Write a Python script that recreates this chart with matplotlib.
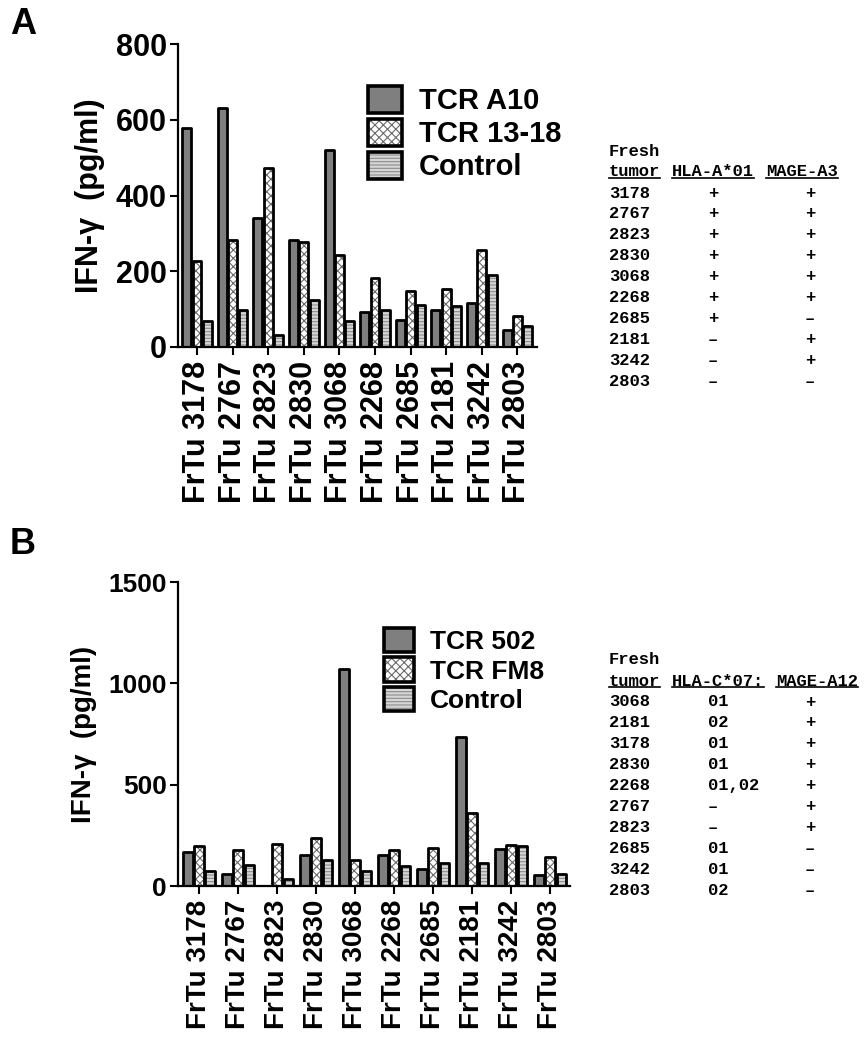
import matplotlib
matplotlib.use("Agg")
import matplotlib.pyplot as plt
import numpy as np
from matplotlib.lines import Line2D
from matplotlib.patches import Rectangle
from matplotlib.legend_handler import HandlerTuple

plt.rcParams['font.family'] = ['Liberation Sans', 'DejaVu Sans']
plt.rcParams['font.weight'] = 'bold'
plt.rcParams['hatch.linewidth'] = 0.8

# ---- data ----
tumors_a = ['3178', '2767', '2823', '2830', '3068', '2268', '2685', '2181', '3242', '2803']
tcr_a10 = [579, 630, 341, 282, 521, 93, 72, 99, 115, 46]
tcr_1318 = [228, 282, 472, 278, 243, 181, 147, 153, 257, 82]
ctrl_a = [69, 99, 31, 123, 69, 97, 112, 108, 191, 55]

tumors_b = ['3178', '2767', '2823', '2830', '3068', '2268', '2685', '2181', '3242', '2803']
tcr_502 = [168, 61, 0, 155, 1072, 155, 82, 735, 184, 56]
tcr_fm8 = [196, 176, 206, 237, 130, 179, 189, 360, 204, 143]
ctrl_b = [74, 102, 36, 127, 72, 99, 113, 113, 196, 58]

# table data
tab_a_tumor = ['3178', '2767', '2823', '2830', '3068', '2268', '2685', '2181', '3242', '2803']
tab_a_hla = ['+', '+', '+', '+', '+', '+', '+', '–', '–', '–']
tab_a_mage = ['+', '+', '+', '+', '+', '+', '–', '+', '+', '–']

tab_b_tumor = ['3068', '2181', '3178', '2830', '2268', '2767', '2823', '2685', '3242', '2803']
tab_b_hla = ['01', '02', '01', '01', '01,02', '–', '–', '01', '01', '02']
tab_b_mage = ['+', '+', '+', '+', '+', '+', '+', '–', '–', '–']

W, H = 867, 1050
fig = plt.figure(figsize=(W / 100, H / 100), dpi=100)


def px(x, y):
    return x / W, 1 - y / H


# series styles: (face, hatch, hatch colour)
styles = [('#7f7f7f', '', None),
          ('white', 'xxxx', '#6a6a6a'),
          ('#d6d6d6', '-----', '#8c8c8c')]


def draw_panel(rect, series, names, tumors, ylim, yticks, xlim,
               tick_fs, xlab_fs, ylab_fs, leg_pos, leg_fs):
    ax = fig.add_axes(rect)
    x = np.arange(len(tumors))
    w = 0.25
    offs = [-0.29, 0.0, 0.29]
    for vals, (fc, hatch, hc), off in zip(series, styles, offs):
        ax.bar(x + off, vals, w, color=fc, hatch=hatch,
               edgecolor=hc if hc else fc, linewidth=0, zorder=2)
        b2 = ax.bar(x + off, vals, w, fill=False, edgecolor='black',
                    linewidth=2.0, zorder=3)
        for p in b2:
            p.set_joinstyle('round')

    ax.set_xlim(*xlim)
    ax.set_ylim(*ylim)
    ax.set_yticks(yticks)
    ax.set_xticks(x)
    ax.set_xticklabels(['FrTu ' + t for t in tumors], rotation=90,
                       fontsize=xlab_fs, fontweight='bold')
    ax.tick_params(axis='y', labelsize=tick_fs, width=1.5, length=6, pad=2)
    ax.tick_params(axis='x', width=1.5, length=6, pad=4)
    for s in ['top', 'right']:
        ax.spines[s].set_visible(False)
    for s in ['left', 'bottom']:
        ax.spines[s].set_linewidth(1.6)
    ax.set_ylabel('IFN-γ  (pg/ml)', fontsize=ylab_fs, fontweight='bold',
                  labelpad=8)

    # legend with big square swatches
    leg_h = []
    for fc, hatch, hc in styles:
        leg_h.append((Rectangle((0, 0), 1, 1, facecolor=fc, hatch=hatch,
                                edgecolor=hc if hc else fc, linewidth=0),
                      Rectangle((0, 0), 1, 1, fill=False, edgecolor='black',
                                linewidth=2.6, joinstyle='round')))
    ax.legend(leg_h, names, loc='upper left',
              bbox_to_anchor=px(*leg_pos), bbox_transform=fig.transFigure,
              frameon=False, handlelength=1.15,
              handleheight=1.05, handletextpad=0.6, labelspacing=0.12,
              borderpad=0, borderaxespad=0,
              handler_map={tuple: HandlerTuple(ndivide=1, pad=0)},
              prop={'weight': 'bold', 'size': leg_fs})
    return ax


draw_panel([178 / W, 1 - 347 / H, (537 - 178) / W, (347 - 44) / H],
           [tcr_a10, tcr_1318, ctrl_a], ['TCR A10', 'TCR 13-18', 'Control'],
           tumors_a, (0, 800), [0, 200, 400, 600, 800], (-0.535, 9.55),
           22, 22, 22, (368, 86), 21)

draw_panel([178 / W, 1 - 886 / H, (570 - 178) / W, (886 - 582) / H],
           [tcr_502, tcr_fm8, ctrl_b], ['TCR 502', 'TCR FM8', 'Control'],
           tumors_b, (0, 1500), [0, 500, 1000, 1500], (-0.54, 9.51),
           19, 20, 20, (384, 628), 19)

# panel letters
fig.text(*px(10, 24), 'A', fontsize=26, fontweight='bold', va='center')
fig.text(*px(10, 544), 'B', fontsize=26, fontweight='bold', va='center')

# side tables
mono = dict(family='Liberation Mono', fontweight='bold', fontsize=12.3,
            va='center')
under = []


def draw_table(y0, head2, head3, tumors, col2, col3, col2_ha):
    fig.text(*px(609, y0), 'Fresh', **mono)
    under.append(fig.text(*px(609, y0 + 21), 'tumor', **mono))
    under.append(fig.text(*px(672, y0 + 21), head2, **mono))
    under.append(fig.text(*px(head3[1], y0 + 21), head3[0], **mono))
    for i, (t, a, b) in enumerate(zip(tumors, col2, col3)):
        y = y0 + 42 + 20.9 * i
        fig.text(*px(609, y), t, **mono)
        if col2_ha == 'center' or a == '–':
            fig.text(*px(713, y), a, ha='center', **mono)
        else:
            fig.text(*px(708, y), a, **mono)
        fig.text(*px(810, y), b, ha='center', **mono)


draw_table(151, 'HLA-A*01', ('MAGE-A3', 766), tab_a_tumor, tab_a_hla,
           tab_a_mage, 'center')
draw_table(660, 'HLA-C*07:', ('MAGE-A12', 776), tab_b_tumor, tab_b_hla,
           tab_b_mage, 'left')

# underline the header words
fig.canvas.draw()
r = fig.canvas.get_renderer()
for t in under:
    bb = t.get_window_extent(r)
    yy = bb.y0 + 2
    fig.add_artist(Line2D([bb.x0 / W, bb.x1 / W], [yy / H, yy / H],
                          transform=fig.transFigure, color='black', lw=1.2))

fig.savefig('out.png', dpi=100)
